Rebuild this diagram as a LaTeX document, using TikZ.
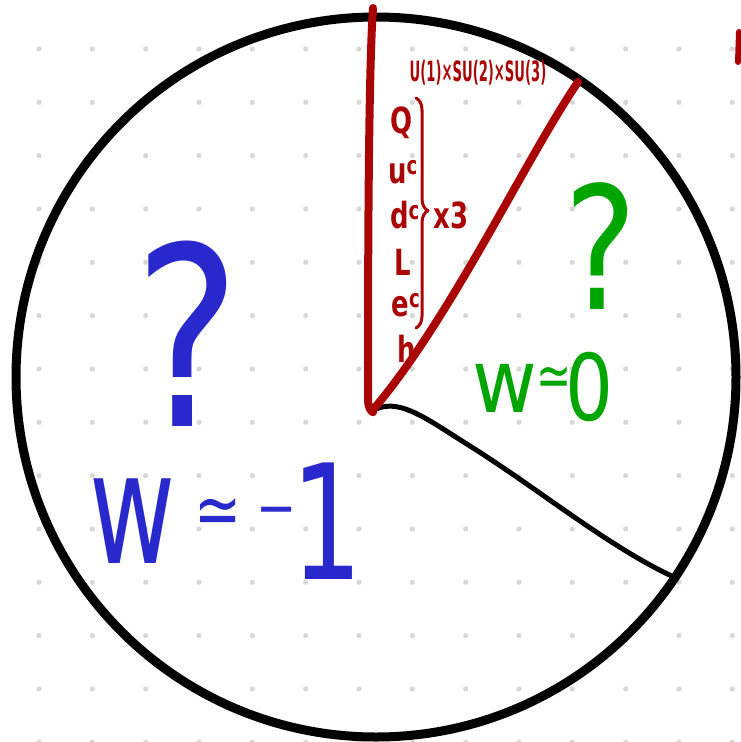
\documentclass[tikz,border=0pt]{standalone}
\usepackage{fontspec}
\newfontfamily\hand{DejaVu Sans}
\usetikzlibrary{decorations.pathreplacing}
\definecolor{handred}{RGB}{170,5,5}
\definecolor{handblue}{RGB}{40,40,205}
\definecolor{handgreen}{RGB}{0,165,0}
\definecolor{dotgray}{RGB}{215,215,215}
\newcommand\handfs[1]{\hand\fontsize{#1}{#1}\selectfont}

\begin{document}
\begin{tikzpicture}[x=1pt, y=-1pt, line cap=round, line join=round,
    rim/.style={line width=9pt},
    redline/.style={draw=handred, line width=8pt},
    txt/.style={inner sep=0pt, anchor=center},
    redtxt/.style={txt, text=handred, font=\handfs{36}\bfseries},
    bluetxt/.style={txt, text=handblue},
    greentxt/.style={txt, text=handgreen}]
    \useasboundingbox (0,0) rectangle (740,742);

    % dotted paper
    \foreach \i in {0,...,13}
        \foreach \j in {0,...,13}
            \fill[dotgray] (39+53.33*\i, 49+53.33*\j) circle[radius=2.6];

    % the pie
    \draw[rim] (376,377) circle[radius=360];
    \coordinate (apex) at (372,411);
    \coordinate (rimtop) at (373,8);
    \coordinate (redtip) at (578,82);
    \coordinate (rimB) at (676,578);

    \draw[line width=5pt] (apex) .. controls (398,396) and (425,418) .. (470,446)
        .. controls (540,490) and (610,548) .. (rimB);
    \draw[redline] (rimtop) .. controls (368,80) and (368,300) .. (368,400)
        .. controls (368,412) and (376,414) .. (apex)
        .. controls (450,320) and (525,160) .. (redtip);
    \draw[redline, line width=6pt] (739,32) -- (738,62);

    % red slice: gauge group and fields
    \node[redtxt, font=\handfs{28}\bfseries] (gauge) at (478,73) {\scalebox{0.47}[1]{U(1)×SU(2)×SU(3)}};
    \node[redtxt] (fQ) at (402,123) {\scalebox{0.72}[1]{Q}};
    \node[redtxt] (fu) at (403,172) {\scalebox{0.72}[1]{u\textsuperscript{c}}};
    \node[redtxt] (fd) at (405,215) {\scalebox{0.72}[1]{d\textsuperscript{c}}};
    \node[redtxt] (fL) at (403,262) {\scalebox{0.72}[1]{L}};
    \node[redtxt] (fe) at (406,305) {\scalebox{0.72}[1]{e\textsuperscript{c}}};
    \node[redtxt] (fh) at (407,349) {\scalebox{0.72}[1]{h}};
    \coordinate (brtop) at (416,98);
    \coordinate (brbot) at (416,328);
    \draw[handred, line width=3pt, decorate,
        decoration={brace, amplitude=12pt, aspect=0.49}] (brtop) -- (brbot);
    \node[redtxt] (times3) at (451,215) {\scalebox{0.72}[1]{x3}};

    % blue slice
    \node[bluetxt, font=\handfs{250}] (qblue) at (188,334) {\scalebox{0.8}[1]{?}};
    \node[bluetxt, font=\handfs{155}] (wblue) at (133,521) {\scalebox{0.68}[1]{w}};
    \node[bluetxt, font=\handfs{75}] (simblue) at (218,517) {\scalebox{0.75}[1]{≃}};
    \node[bluetxt, font=\handfs{60}] (minusblue) at (277,518) {\scalebox{0.8}[1]{−}};
    \node[bluetxt, font=\handfs{160}] (oneblue) at (327,521) {\scalebox{0.7}[1]{1}};

    % green slice
    \node[greentxt, font=\handfs{171}] (qgreen) at (601,246) {\scalebox{0.8}[1]{?}};
    \node[greentxt, font=\handfs{88}] (wgreen) at (505,388) {\scalebox{0.9}[1]{w}};
    \node[greentxt, font=\handfs{60}] (simgreen) at (554,382) {\scalebox{0.7}[1]{≃}};
    \node[greentxt, font=\handfs{92}] (zerogreen) at (589,387) {\scalebox{0.82}[1]{0}};
\end{tikzpicture}
\end{document}
